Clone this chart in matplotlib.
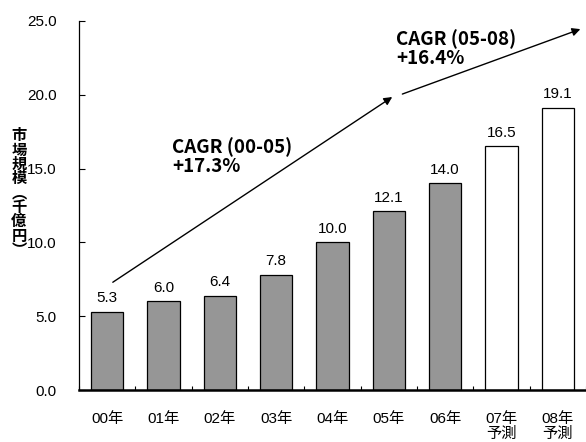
import matplotlib
matplotlib.use('Agg')
import matplotlib.pyplot as plt
import numpy as np

plt.rcParams['font.family'] = ['Liberation Sans', 'Noto Sans CJK JP', 'DejaVu Sans']

# data
years = ['00年', '01年', '02年', '03年', '04年', '05年', '06年', '07年\n予測', '08年\n予測']
market = [5.3, 6.0, 6.4, 7.8, 10.0, 12.1, 14.0, 16.5, 19.1]
forecast = [False, False, False, False, False, False, False, True, True]
cagr_labels = ['CAGR (00-05)\n+17.3%', 'CAGR (05-08)\n+16.4%']
ylabel_chars = ['市', '場', '規', '模', '︵', '千', '億', '円', '︶']

fig = plt.figure(figsize=(5.86, 4.42), dpi=100)
ax = fig.add_axes([79/586, 52/442, 507/586, 369/442])

x = np.arange(len(years))
colors = ['white' if f else '#969696' for f in forecast]
ax.bar(x, market, width=0.57, color=colors, edgecolor='black', linewidth=0.9)

for xi, v in zip(x, market):
    ax.text(xi, v + 0.45, f'{v:.1f}', ha='center', va='bottom', fontsize=11)

ax.set_xlim(-0.5, len(years) - 0.5)
ax.set_ylim(0, 25)
ax.set_yticks(np.arange(0, 25.1, 5))
ax.set_yticklabels([f'{t:.1f}' for t in np.arange(0, 25.1, 5)], fontsize=11)
ax.set_xticks(x)
ax.set_xticklabels(years, fontsize=11, linespacing=1.1)
ax.set_xticks(np.arange(-0.5, len(years)), minor=True)
ax.tick_params(axis='x', which='major', length=0, pad=16)
ax.tick_params(axis='x', which='minor', length=3, direction='in', width=0.8)
ax.tick_params(axis='y', length=4, direction='in', width=0.8, pad=16)

ax.spines['top'].set_visible(False)
ax.spines['right'].set_visible(False)
ax.spines['left'].set_linewidth(0.9)
ax.spines['bottom'].set_linewidth(1.8)

# y label, written vertically one character at a time
for i, ch in enumerate(ylabel_chars):
    ax.text(19/586, 1 - (135 + i * 14.4) / 442, ch, transform=fig.transFigure,
            ha='center', va='center', fontsize=11, fontweight='bold',
            family=['Noto Sans CJK JP'])

# CAGR arrows
ax.annotate('', xy=(5.06, 19.85), xytext=(0.1, 7.3),
            arrowprops=dict(arrowstyle='-|>', color='black', lw=1.0,
                            mutation_scale=12, shrinkA=0, shrinkB=0))
ax.annotate('', xy=(8.4, 24.45), xytext=(5.24, 20.05),
            arrowprops=dict(arrowstyle='-|>', color='black', lw=1.0,
                            mutation_scale=12, shrinkA=0, shrinkB=0),
            annotation_clip=False)

ax.text(1.15, 17.1, cagr_labels[0], ha='left', va='top', fontsize=13.5,
        fontweight='bold', family=['Noto Sans CJK JP'], linespacing=1.0)
ax.text(5.13, 24.45, cagr_labels[1], ha='left', va='top', fontsize=13.5,
        fontweight='bold', family=['Noto Sans CJK JP'], linespacing=1.0)

fig.savefig('out.png', dpi=100)
